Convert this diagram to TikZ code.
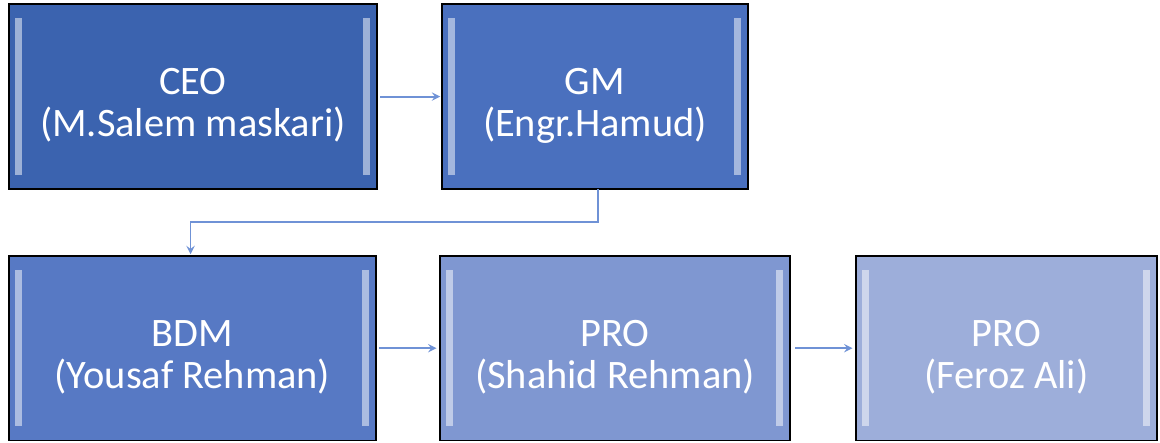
\documentclass[tikz,border=0pt]{standalone}
\usepackage{fontspec}
\setmainfont{Carlito}
\usetikzlibrary{calc}

\definecolor{boxA}{HTML}{3B63AF}
\definecolor{boxB}{HTML}{4A70BE}
\definecolor{boxC}{HTML}{5779C4}
\definecolor{boxD}{HTML}{7F97D1}
\definecolor{boxE}{HTML}{9DAEDA}
\definecolor{linkcol}{HTML}{6F92D6}

\tikzset{
    post/.style={draw=black,line width=0.9pt,inner sep=0pt,outer sep=0pt,
        text=white,align=center,
        text height=75.4pt,
        font=\fontsize{23}{24}\selectfont},
    link/.style={->,draw=linkcol,line width=1.1pt},
}

\begin{document}
\begin{tikzpicture}[>=stealth,x=0.02cm,y=-0.02cm]
            \useasboundingbox (0,0) rectangle (1160,443);
            \node[post,fill=boxA,minimum width=7.36cm,text depth=30pt,anchor=north] (ceo) at (193,4) {CEO\\(M.Salem maskari)};
            \node[post,fill=boxB,minimum width=6.12cm,text depth=30pt,anchor=north] (gm) at (595,4) {GM\\(Engr.Hamud)};
            \node[post,fill=boxC,minimum width=7.34cm,text depth=29.5pt,anchor=north] (bdm) at (192.5,256) {BDM\\(Yousaf Rehman)};
            \node[post,fill=boxD,minimum width=7cm,text depth=29.5pt,anchor=north] (pro) at (615,256) {PRO\\(Shahid Rehman)};
            \node[post,fill=boxE,minimum width=6.02cm,text depth=29.5pt,anchor=north] (proa) at (1006.5,256) {PRO\\(Feroz Ali)};
            % bevel strips
            \foreach \n in {ceo,gm,bdm,pro,proa} {
                \fill[white,opacity=0.5] ($(\n.north west)+(6,14)$) rectangle ($(\n.south west)+(13,-14)$);
                \fill[white,opacity=0.5] ($(\n.north east)+(-14,14)$) rectangle ($(\n.south east)+(-7,-14)$);
            }
            \draw[link,shorten <=2pt,shorten >=1pt] (ceo) -- (gm);
            \draw[link,shorten >=1pt] ($(gm.south)+(3,0)$) -- ++(0,33) -| ($(bdm.north)+(-2,0)$);
            \draw[link,shorten <=2pt,shorten >=2pt] (bdm) -- (pro);
            \draw[link,shorten <=3pt,shorten >=2pt] (pro) -- (proa);
\end{tikzpicture}
\end{document}
